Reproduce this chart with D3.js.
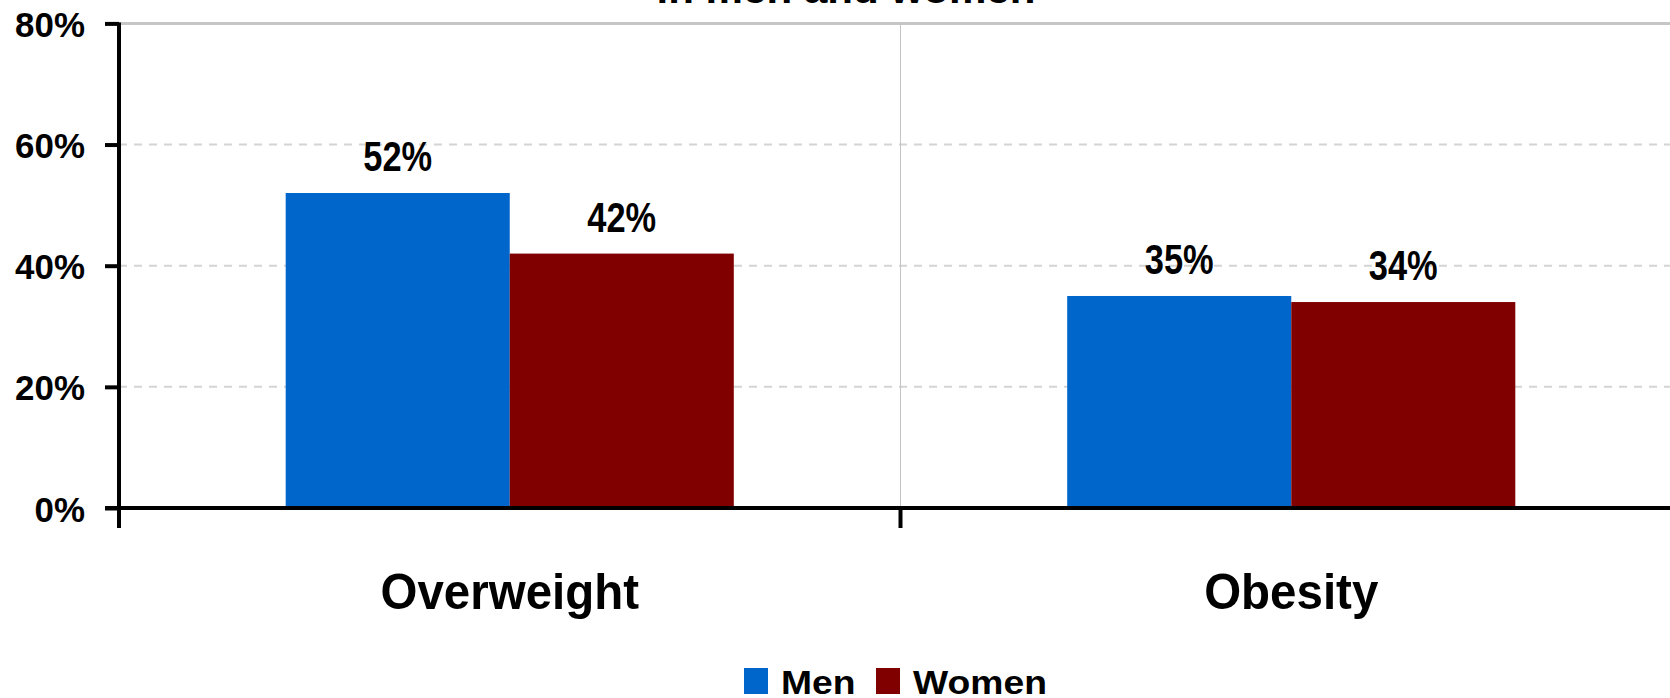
<!DOCTYPE html>
<html>
<head>
<meta charset="utf-8">
<script src="https://cdn.jsdelivr.net/npm/d3@7"></script>
<style>
  html, body { margin: 0; padding: 0; background: #fff; }
  svg { display: block; font-family: "Liberation Sans", Arial, sans-serif; font-weight: bold; }
</style>
</head>
<body>
<svg id="chart" width="1670" height="698"></svg>
<script>
// Prevalence of overweight and obesity, by sex
const categories = ["Overweight", "Obesity"];
const seriesNames = ["Men", "Women"];
const menValues = [0.52, 0.35];
const womenValues = [0.42, 0.34];
const yTicks = [0, 0.2, 0.4, 0.6, 0.8];
const titleLine = "in men and women";

const colors = { Men: "#0066CC", Women: "#800000" };
const seriesValues = { Men: menValues, Women: womenValues };

const svg = d3.select("#chart");

const plot = { left: 119, right: 1682, top: 23.4, bottom: 508 };

const y = d3.scaleLinear().domain([0, 0.8]).range([plot.bottom, plot.top]);
const x0 = d3.scaleBand().domain(categories).range([plot.left, plot.right]).paddingInner(0).paddingOuter(0);
const x1 = d3.scaleBand().domain(seriesNames).range([0, x0.bandwidth()]).paddingInner(0).paddingOuter(0.744);

// Title (second line of a two-line heading)
svg.append("text")
  .attr("transform", "translate(846,3) scale(1.08,1)")
  .attr("text-anchor", "middle")
  .attr("font-size", 39)
  .attr("fill", "#000")
  .text(titleLine);

// Horizontal gridlines
const grid = svg.append("g");
grid.selectAll("line")
  .data(yTicks.filter(d => d > 0))
  .join("line")
  .attr("x1", plot.left).attr("x2", 1670)
  .attr("y1", d => y(d)).attr("y2", d => y(d))
  .attr("stroke", d => d === 0.8 ? "#c6c6c6" : "#d4d4d4")
  .attr("stroke-width", d => d === 0.8 ? 3 : 2)
  .attr("stroke-dasharray", d => d === 0.8 ? null : "8,7");

// Vertical separators between categories
svg.append("g").selectAll("line")
  .data(categories.slice(1))
  .join("line")
  .attr("x1", d => x0(d)).attr("x2", d => x0(d))
  .attr("y1", plot.top).attr("y2", plot.bottom)
  .attr("stroke", "#c4c4c4").attr("stroke-width", 1);

// Bars
const groups = svg.append("g").selectAll("g")
  .data(categories.map((c, i) => ({ c, i })))
  .join("g")
  .attr("transform", d => `translate(${x0(d.c)},0)`);

groups.selectAll("rect")
  .data(d => seriesNames.map(s => ({ s, v: seriesValues[s][d.i] })))
  .join("rect")
  .attr("x", d => x1(d.s))
  .attr("width", x1.bandwidth())
  .attr("y", d => y(d.v))
  .attr("height", d => y(0) - y(d.v))
  .attr("fill", d => colors[d.s]);

// Value labels
groups.selectAll("text.value")
  .data(d => seriesNames.map(s => ({ s, v: seriesValues[s][d.i] })))
  .join("text")
  .attr("class", "value")
  .attr("text-anchor", "middle")
  .attr("font-size", 43)
  .attr("fill", "#000")
  .attr("transform", d => `translate(${x1(d.s) + x1.bandwidth() / 2},${y(d.v) - 22}) scale(0.8,1)`)
  .text(d => d3.format(".0%")(d.v));

// Y axis
const yAxis = svg.append("g")
  .attr("transform", `translate(${plot.left},0)`)
  .call(d3.axisLeft(y).tickValues(yTicks).tickFormat(d3.format(".0%")).tickSize(14).tickPadding(20));
yAxis.select(".domain").remove();
yAxis.selectAll(".tick line").attr("stroke", "#000").attr("stroke-width", 4);
yAxis.selectAll(".tick text")
  .attr("font-size", 36).attr("font-weight", "bold").attr("fill", "#000")
  .attr("font-family", "'Liberation Sans', Arial, sans-serif")
  .attr("x", null).attr("dy", null)
  .attr("transform", "translate(-34,13) scale(0.97,1)");
yAxis.append("line")
  .attr("x1", 0).attr("x2", 0)
  .attr("y1", plot.top - 1).attr("y2", plot.bottom + 20)
  .attr("stroke", "#000").attr("stroke-width", 4);

// X axis: baseline, category boundary ticks, category labels
const xAxis = svg.append("g")
  .attr("transform", `translate(0,${plot.bottom})`)
  .call(d3.axisBottom(x0).tickSize(0).tickPadding(0));
xAxis.select(".domain").remove();
xAxis.selectAll(".tick text")
  .attr("font-size", 50).attr("font-weight", "bold").attr("fill", "#000")
  .attr("font-family", "'Liberation Sans', Arial, sans-serif")
  .attr("y", null).attr("dy", null)
  .attr("transform", "translate(0,101) scale(0.95,1)");
xAxis.append("line")
  .attr("x1", plot.left - 14).attr("x2", 1670)
  .attr("y1", 0).attr("y2", 0)
  .attr("stroke", "#000").attr("stroke-width", 4);
xAxis.selectAll("line.boundary")
  .data(categories.slice(1))
  .join("line")
  .attr("class", "boundary")
  .attr("x1", d => x0(d)).attr("x2", d => x0(d))
  .attr("y1", 0).attr("y2", 20)
  .attr("stroke", "#000").attr("stroke-width", 4);

// Legend
const legendX = [744, 876];
const legend = svg.append("g").selectAll("g")
  .data(seriesNames)
  .join("g")
  .attr("transform", (d, i) => `translate(${legendX[i]},668)`);
legend.append("rect")
  .attr("width", 24).attr("height", 26)
  .attr("fill", d => colors[d]);
legend.append("text")
  .attr("transform", "translate(37,26) scale(1.13,1)")
  .attr("font-size", 33)
  .attr("fill", "#000")
  .text(d => d);
</script>
</body>
</html>
